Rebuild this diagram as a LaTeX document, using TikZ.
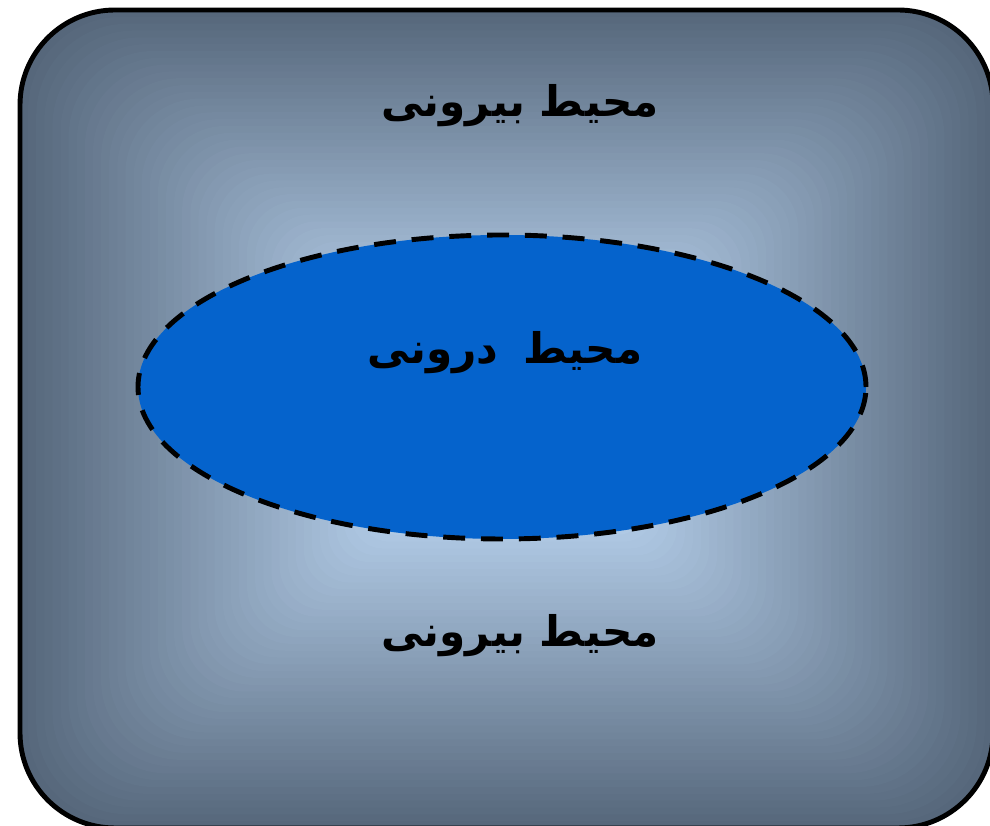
\documentclass[tikz,border=0pt]{standalone}
\usepackage{fontspec}
\newfontfamily\arabicfont[Script=Arabic]{DejaVu Sans}
\TeXXeTstate=1
\usetikzlibrary{positioning, shapes.geometric}

\definecolor{halocentre}{HTML}{BAD4F0}
\definecolor{halobord}{HTML}{56677B}
\definecolor{bleudedans}{HTML}{0563CC}

\begin{document}
\begin{tikzpicture}[
    every node/.style={font=\arabicfont\bfseries\fontsize{24}{29}\selectfont},
    milieu/.style={
        rectangle,
        draw,
        line width=2.8pt,
        rounded corners=1.9cm,
        minimum width=19.46cm,
        minimum height=16.36cm,
        inner sep=0pt
    },
    bulle/.style={
        ellipse,
        draw,
        dash pattern=on 12.5pt off 9pt,
        line width=2.8pt,
        fill=bleudedans,
        minimum width=14.56cm,
        minimum height=6.08cm,
        inner sep=0pt
    },
    etiquette/.style={
        inner sep=0pt
    }
]
\useasboundingbox (0,0) rectangle (19.8,16.52);

% Degrade du fond
\foreach \i in {0,...,59}{
    \pgfmathsetmacro\t{\i/60}
    \pgfmathsetmacro\p{min(100,125*\t)}
    \pgfmathsetmacro\lx{9.73*(1-\t)}
    \pgfmathsetmacro\ly{8.18*(1-\t)}
    \pgfmathsetmacro\rc{54*(1-\t)}
    \fill[halocentre!\p!halobord, rounded corners=\rc pt]
        ({10.13-\lx},{8.14-\ly}) rectangle ({10.13+\lx},{8.14+\ly});
}

% Blocs
\node[milieu] (exterieur) at (10.13,8.14) {};
\node[bulle] (interieur) at (10.04,8.78) {};

% Textes
\node[etiquette] (hautext) at (10.4,14.4) {\beginR محیط بیرونی\endR};
\node[etiquette] (dedans) at (10.1,9.46) {\beginR محیط\hspace{0.6em}درونی\endR};
\node[etiquette] (basext) at (10.4,3.8) {\beginR محیط بیرونی\endR};

\end{tikzpicture}
\end{document}
